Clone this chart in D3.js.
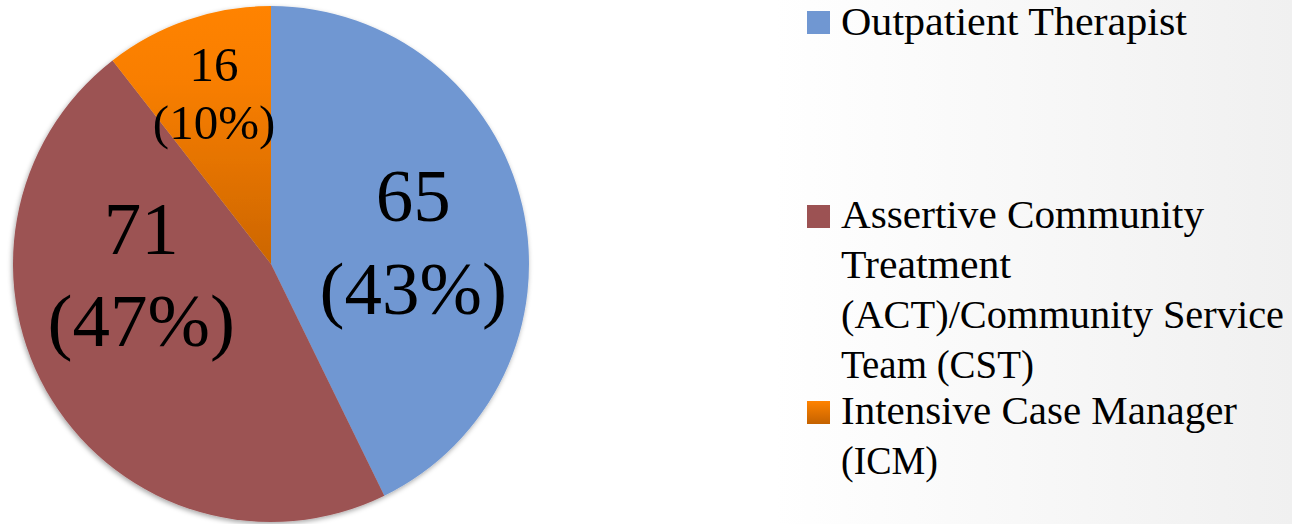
<!DOCTYPE html>
<html>
<head>
<meta charset="utf-8">
<script src="https://cdn.jsdelivr.net/npm/d3@7"></script>
<style>
  html, body { margin: 0; padding: 0; background: #fff; }
  svg { display: block; }
</style>
</head>
<body>
<svg id="chart" width="1292" height="524"></svg>
<script>
// ---- data ----
const categories = ["Outpatient Therapist", "Assertive Community Treatment (ACT)/Community Service Team (CST)", "Intensive Case Manager (ICM)"];
const values = [65, 71, 16];
const percentLabels = ["43%", "47%", "10%"];
const legendLines = [
  ["Outpatient Therapist"],
  ["Assertive Community", "Treatment", "(ACT)/Community Service", "Team (CST)"],
  ["Intensive Case Manager", "(ICM)"]
];

// ---- styles ----
const colors = ["#7097d2", "#9c5253", null];
const W = 1292, H = 524;
const cx = 271, cy = 264, R = 258;
const fontFamily = "'Liberation Serif', 'Times New Roman', serif";
const legendWidths = [[346], [363, 170, 443, 193], [396, 97]];

const svg = d3.select("#chart");
const defs = svg.append("defs");

// background gradient
const bg = defs.append("linearGradient").attr("id", "bg").attr("x1", "0").attr("x2", "1").attr("y1", "0").attr("y2", "0");
bg.append("stop").attr("offset", "0.6").attr("stop-color", "#ffffff");
bg.append("stop").attr("offset", "1").attr("stop-color", "#f0f0f0");
svg.append("rect").attr("width", W).attr("height", H).attr("fill", "url(#bg)");

// orange gradient (top bright → bottom darker)
const og = defs.append("linearGradient").attr("id", "og").attr("gradientUnits", "userSpaceOnUse")
  .attr("x1", 0).attr("x2", 0).attr("y1", -R).attr("y2", 0);
og.append("stop").attr("offset", "0").attr("stop-color", "#ff8300");
og.append("stop").attr("offset", "0.3").attr("stop-color", "#f87e00");
og.append("stop").attr("offset", "1").attr("stop-color", "#cc6600");
const ogl = defs.append("linearGradient").attr("id", "ogl").attr("x1", 0).attr("x2", 0).attr("y1", 0).attr("y2", 1);
ogl.append("stop").attr("offset", "0").attr("stop-color", "#ff8300");
ogl.append("stop").attr("offset", "1").attr("stop-color", "#c46200");
colors[2] = "url(#og)";
const legendColors = [colors[0], colors[1], "url(#ogl)"];

// shadow
const f = defs.append("filter").attr("id", "shadow").attr("x", "-10%").attr("y", "-10%").attr("width", "120%").attr("height", "120%");
f.append("feDropShadow").attr("dx", -1).attr("dy", 2).attr("stdDeviation", 2.5)
  .attr("flood-color", "#000").attr("flood-opacity", 0.35);

const pie = d3.pie().sort(null).value(d => d)(values);
const arc = d3.arc().innerRadius(0).outerRadius(R);

const g = svg.append("g").attr("transform", `translate(${cx},${cy})`);
const slices = g.append("g").attr("filter", "url(#shadow)");
slices.selectAll("path").data(pie).join("path")
  .attr("d", arc)
  .attr("fill", (d, i) => colors[i]);

// labels
const labelRadius = [0.55, 0.52, 0.68];
const labelShift = [[4, 10], [-16, -60], [0, -4]];
const labelSize = [75, 75, 49];
const lineGap = [93, 92, 58];
pie.forEach((d, i) => {
  const lr = d3.arc().innerRadius(R * labelRadius[i]).outerRadius(R * labelRadius[i]);
  const [x, y] = lr.centroid(d);
  const px = x + labelShift[i][0], py = y + labelShift[i][1];
  const base = (i === 2 ? 16.2 : 25.4);
  const t = g.append("text")
    .attr("font-family", fontFamily)
    .attr("font-size", labelSize[i])
    .attr("fill", "#000")
    .attr("text-anchor", "middle");
  t.append("tspan").attr("x", px).attr("y", py - lineGap[i] / 2 + base).text(values[i]);
  t.append("tspan").attr("x", px).attr("y", py + lineGap[i] / 2 + base).text(`(${percentLabels[i]})`);
});

// legend
const legendX = 807, textX = 841, sq = 23;
const legendBaselines = [35, 228, 424];
const legendLineH = 50;
const legend = svg.append("g");
legendLines.forEach((lines, i) => {
  legend.append("rect")
    .attr("x", legendX).attr("y", legendBaselines[i] - sq - (i === 0 ? 1 : 0))
    .attr("width", sq).attr("height", sq)
    .attr("fill", legendColors[i]);
  lines.forEach((ln, j) => {
    legend.append("text")
      .attr("x", textX).attr("y", legendBaselines[i] + j * legendLineH)
      .attr("font-family", fontFamily).attr("font-size", 39)
      .attr("fill", "#000")
      .attr("textLength", legendWidths[i][j]).attr("lengthAdjust", "spacingAndGlyphs")
      .text(ln);
  });
});
</script>
</body>
</html>
